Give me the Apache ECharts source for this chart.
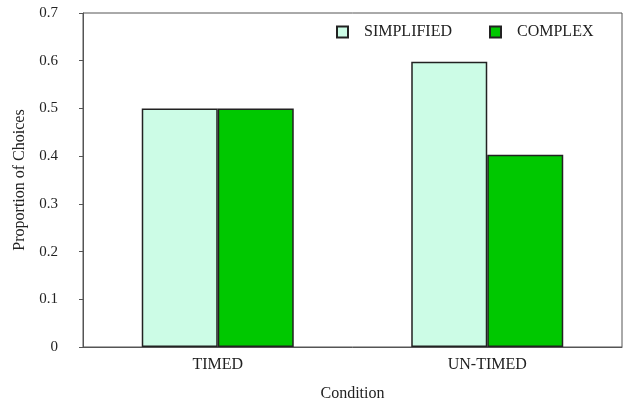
<!DOCTYPE html>
<html>
<head>
<meta charset="utf-8">
<script src="https://cdn.jsdelivr.net/npm/echarts@6/dist/echarts.min.js"></script>
<style>html,body{margin:0;padding:0;background:#fff}#c{width:626px;height:405px}</style>
</head>
<body>
<div id="c"></div>
<script>
var categories = ['TIMED', 'UN-TIMED'];
var simplified = [0.5, 0.598];
var complex = [0.5, 0.403];
var seriesNames = ['SIMPLIFIED', 'COMPLEX'];

var font = '"Liberation Serif", "DejaVu Serif", serif';
var chart = echarts.init(document.getElementById('c'));
chart.setOption({
  animation: false,
  backgroundColor: '#fff',
  textStyle: { fontFamily: font },
  grid: { left: 83, right: 4, top: 13, bottom: 58, show: true, borderColor: '#555', borderWidth: 1,
    containLabel: false, outerBoundsMode: 'none' },
  legend: [
    { data: [seriesNames[0]], left: 331, top: 19, itemWidth: 11, itemHeight: 11, icon: 'rect',
      textStyle: { fontFamily: font, fontSize: 16, color: '#222', padding: [0, 0, 0, 11] } },
    { data: [seriesNames[1]], left: 484, top: 19, itemWidth: 11, itemHeight: 11, icon: 'rect',
      textStyle: { fontFamily: font, fontSize: 16, color: '#222', padding: [0, 0, 0, 11] } }
  ],
  xAxis: {
    type: 'category', data: categories,
    axisLine: { lineStyle: { color: '#555', width: 1 } },
    axisTick: { show: false },
    axisLabel: { color: '#222', fontSize: 16, margin: 10, fontFamily: font },
    name: 'Condition', nameLocation: 'middle', nameGap: 39,
    nameTextStyle: { color: '#222', fontSize: 16, fontFamily: font }
  },
  yAxis: {
    type: 'value', min: 0, max: 0.7, interval: 0.1,
    axisLine: { show: true, lineStyle: { color: '#555', width: 1 } },
    axisTick: { show: true, length: 4, lineStyle: { color: '#555' } },
    splitLine: { show: false },
    axisLabel: { color: '#222', fontSize: 15, margin: 25, fontFamily: font,
      formatter: function (v) { return v === 0 ? '0' : v.toFixed(1); } },
    name: 'Proportion of Choices', nameLocation: 'middle', nameGap: 55, nameRotate: 90,
    nameTextStyle: { color: '#222', fontSize: 16, fontFamily: font }
  },
  series: [
    { name: seriesNames[0], type: 'bar', data: simplified, barGap: '0%', barCategoryGap: '43.6%',
      itemStyle: { color: '#CCFCE6', borderColor: '#222', borderWidth: 1.5 } },
    { name: seriesNames[1], type: 'bar', data: complex,
      itemStyle: { color: '#00C800', borderColor: '#222', borderWidth: 1.5 } }
  ]
});
</script>
</body>
</html>
